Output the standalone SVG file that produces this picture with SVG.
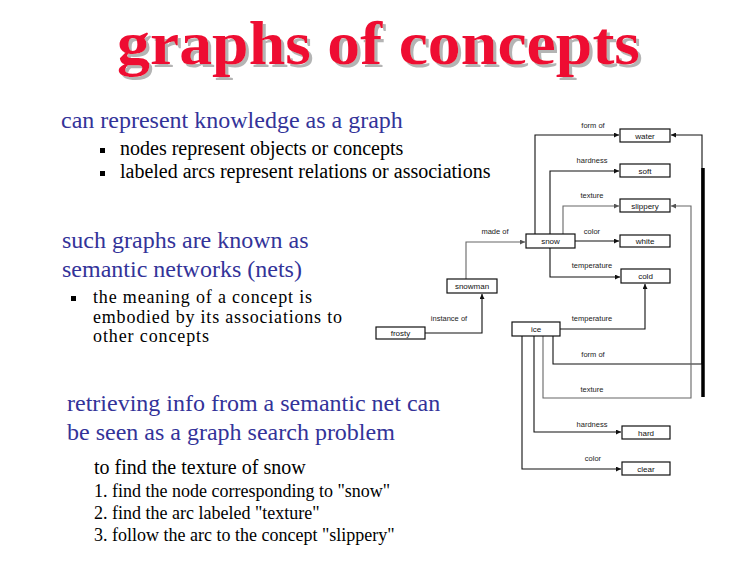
<svg xmlns="http://www.w3.org/2000/svg" width="756" height="576" viewBox="0 0 756 576">
<defs>
<marker id="ah" viewBox="0 0 10 10" refX="10" refY="5" markerWidth="6" markerHeight="5" orient="auto" markerUnits="userSpaceOnUse">
<path d="M0,0 L10,5 L0,10 z" fill="#111"/>
</marker>
<marker id="ahg" viewBox="0 0 10 10" refX="10" refY="5" markerWidth="6" markerHeight="5" orient="auto" markerUnits="userSpaceOnUse">
<path d="M0,0 L10,5 L0,10 z" fill="#555"/>
</marker>
<filter id="shadow" x="-5%" y="-20%" width="110%" height="140%">
<feOffset in="SourceAlpha" dx="2.5" dy="2.5" result="off"/>
<feFlood flood-color="#b4b4b4"/>
<feComposite in2="off" operator="in" result="sh"/>
<feMerge><feMergeNode in="sh"/><feMergeNode in="SourceGraphic"/></feMerge>
</filter>
<style>
.title{font-family:"Liberation Serif","Times New Roman",serif;font-weight:bold;font-size:62px}
.h{font-family:"Liberation Serif","Times New Roman",serif;font-size:24px;fill:#333399}
.b{font-family:"Liberation Serif","Times New Roman",serif;font-size:20px;fill:#000}
.m{font-family:"Liberation Serif","Times New Roman",serif;font-size:18px;fill:#000}
.s{font-family:"Liberation Serif","Times New Roman",serif;font-size:18px;fill:#000}
.node rect{fill:#fff;stroke:#111;stroke-width:1.2}
.node text{font-family:"Liberation Sans",Arial,sans-serif;font-size:8px;fill:#111;text-anchor:middle}
.lbl{font-family:"Liberation Sans",Arial,sans-serif;font-size:7.5px;fill:#222;text-anchor:middle}
.e{fill:none;stroke:#111;stroke-width:1.1;marker-end:url(#ah)}
.eg{fill:none;stroke:#666;stroke-width:1.1;marker-end:url(#ahg)}
</style>
</defs>
<rect width="756" height="576" fill="#fff"/>

<g id="title">
<text class="title" fill="#ee1133" x="117" y="64" textLength="523" lengthAdjust="spacingAndGlyphs" filter="url(#shadow)">graphs of concepts</text>
</g>

<g id="text">
<text class="h" x="61" y="128">can represent knowledge as a graph</text>
<rect x="100" y="148" width="5" height="5" fill="#000"/>
<text class="b" x="120" y="155">nodes represent objects or concepts</text>
<rect x="100" y="171" width="5" height="5" fill="#000"/>
<text class="b" x="120" y="178">labeled arcs represent relations or associations</text>

<text class="h" x="62" y="248">such graphs are known as</text>
<text class="h" x="62" y="277">semantic networks (nets)</text>
<rect x="71" y="296" width="5" height="5" fill="#000"/>
<text class="m" x="93" y="303" textLength="219" lengthAdjust="spacing">the meaning of a concept is</text>
<text class="m" x="93" y="323" textLength="249" lengthAdjust="spacing">embodied by its associations to</text>
<text class="m" x="93" y="342" textLength="116" lengthAdjust="spacing">other concepts</text>

<text class="h" x="67" y="411">retrieving info from a semantic net can</text>
<text class="h" x="67" y="440">be seen as a graph search problem</text>
<text class="b" x="94" y="474">to find the texture of snow</text>
<text class="s" x="94" y="497">1. find the node corresponding to "snow"</text>
<text class="s" x="94" y="519">2. find the arc labeled "texture"</text>
<text class="s" x="94" y="541">3. follow the arc to the concept "slippery"</text>
</g>

<g id="connectors">
<path class="e" d="M535,234 V135 H619"/>
<path class="e" d="M550,234 V171 H619"/>
<path class="eg" d="M563,234 V206 H619"/>
<path class="e" d="M575,241 H619"/>
<path class="e" d="M550,248 V277 H620"/>
<path class="eg" d="M466,279 V242 H525"/>
<path class="e" d="M425,333 H482 V294"/>
<path class="e" d="M560,329 H645 V284"/>
<path class="e" d="M553,336 V364 H702 V135 H671"/>
<path class="eg" d="M543,336 V398 H691 V206 H671"/>
<path class="e" d="M534,336 V432 H621"/>
<path class="e" d="M522,336 V469 H621"/>
<line x1="703" y1="168" x2="703" y2="397" stroke="#000" stroke-width="3.5"/>
<text class="lbl" x="593" y="128">form of</text>
<text class="lbl" x="592" y="163">hardness</text>
<text class="lbl" x="592" y="198">texture</text>
<text class="lbl" x="592" y="234">color</text>
<text class="lbl" x="495" y="234">made of</text>
<text class="lbl" x="592" y="268">temperature</text>
<text class="lbl" x="449" y="321">instance of</text>
<text class="lbl" x="592" y="321">temperature</text>
<text class="lbl" x="593" y="357">form of</text>
<text class="lbl" x="592" y="392">texture</text>
<text class="lbl" x="592" y="427">hardness</text>
<text class="lbl" x="593" y="461">color</text>
</g>

<g id="node-water" class="node"><rect x="620" y="129" width="50" height="13"/><text x="645" y="138.5">water</text></g>
<g id="node-soft" class="node"><rect x="620" y="164" width="50" height="13"/><text x="645" y="173.5">soft</text></g>
<g id="node-slippery" class="node"><rect x="620" y="199" width="50" height="13"/><text x="645" y="208.5">slippery</text></g>
<g id="node-white" class="node"><rect x="620" y="235" width="50" height="12"/><text x="645" y="244">white</text></g>
<g id="node-cold" class="node"><rect x="621" y="269" width="49" height="14"/><text x="645.5" y="279">cold</text></g>
<g id="node-snow" class="node"><rect x="526" y="234" width="49" height="14"/><text x="550.5" y="244">snow</text></g>
<g id="node-snowman" class="node"><rect x="447" y="279" width="50" height="14"/><text x="472" y="289">snowman</text></g>
<g id="node-frosty" class="node"><rect x="376" y="327" width="49" height="12"/><text x="400.5" y="336">frosty</text></g>
<g id="node-ice" class="node"><rect x="512" y="322" width="48" height="14"/><text x="536" y="332">ice</text></g>
<g id="node-hard" class="node"><rect x="622" y="426" width="48" height="13"/><text x="646" y="435.5">hard</text></g>
<g id="node-clear" class="node"><rect x="622" y="462" width="48" height="13"/><text x="646" y="471.5">clear</text></g>
</svg>
